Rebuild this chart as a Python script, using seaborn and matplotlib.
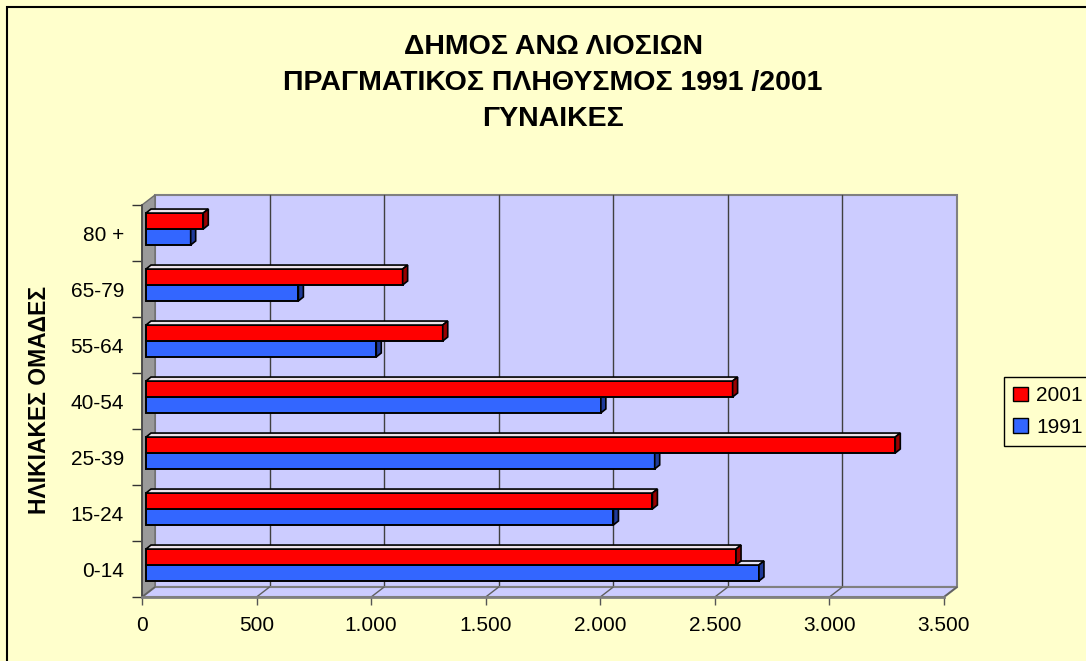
import pandas as pd
import matplotlib
matplotlib.use('Agg')
import matplotlib.pyplot as plt
import matplotlib.transforms as mtransforms
from matplotlib.patches import Rectangle, Polygon
from matplotlib.ticker import FuncFormatter, FixedLocator
import seaborn as sns

# data
age_groups = ['0-14', '15-24', '25-39', '40-54', '55-64', '65-79', '80 +']
women_1991 = [2675, 2040, 2220, 1985, 1005, 665, 195]
women_2001 = [2575, 2210, 3270, 2560, 1295, 1120, 250]
years = ['2001', '1991']
x_ticks = [0, 500, 1000, 1500, 2000, 2500, 3000, 3500]

df = pd.DataFrame({
    'age': age_groups * 2,
    'year': ['1991'] * len(age_groups) + ['2001'] * len(age_groups),
    'value': women_1991 + women_2001,
})

sns.set_theme(style='white')
plt.rcParams['font.family'] = ['Liberation Sans', 'DejaVu Sans']
plt.rcParams['text.color'] = 'black'
plt.rcParams['xtick.labelcolor'] = 'black'
plt.rcParams['ytick.labelcolor'] = 'black'

BG = '#FFFFCC'
WALL = '#CCCCFF'
colors = {'2001': '#FF0000', '1991': '#3366FF'}
side_colors = {'2001': '#990000', '1991': '#1F3A99'}
top_colors = {'2001': '#EDE3EA', '1991': '#E4E4F4'}

W, H, DPI = 1086, 661, 100
fig = plt.figure(figsize=(W / DPI, H / DPI), dpi=DPI, facecolor=BG)

# chart border (cut off at right and bottom as in the reference)
fig.patches.append(Rectangle((7 / W, -0.2), 1.2, 1.2 - 7 / H, transform=fig.transFigure,
                             facecolor=BG, edgecolor='black', linewidth=1.5, zorder=-5))

# front plane of the 3D plot
ax = fig.add_axes([142 / W, 1 - 597 / H, 802 / W, 392 / H])
ax.set_zorder(2)
ax.set_facecolor('none')

sns.barplot(data=df, x='value', y='age', hue='year', order=age_groups[::-1],
            hue_order=years, palette=colors, width=0.57, edgecolor='black',
            linewidth=1.4, saturation=1, ax=ax, legend=False)

xmax = 3500
ax.set_xlim(0, xmax)
ax.set_ylim(len(age_groups) - 0.5, -0.5)

px_x = xmax / 802          # data units per pixel (x)
px_y = len(age_groups) / 392  # data units per pixel (y)

# walls: back wall, left wall, floor
wdx, wdy = 13, 10
wall_shift = mtransforms.ScaledTranslation(wdx / DPI, wdy / DPI, fig.dpi_scale_trans)
adx, ady = wdx / 802, wdy / 392
ax.add_patch(Rectangle((0, 0), 1, 1, transform=ax.transAxes + wall_shift,
                       facecolor=WALL, edgecolor='#808080', linewidth=1.5,
                       clip_on=False, zorder=0.5))
ax.add_patch(Polygon([(0, 0), (adx, ady), (adx, 1 + ady), (0, 1)], closed=True,
                     transform=ax.transAxes, facecolor='#9A9A9A', edgecolor='#6E6E6E',
                     linewidth=1, clip_on=False, zorder=0.7))
ax.add_patch(Polygon([(0, 0), (1, 0), (1 + adx, ady), (adx, ady)], closed=True,
                     transform=ax.transAxes, facecolor=WALL, edgecolor='#808080',
                     linewidth=1.5, clip_on=False, zorder=0.7))
for v in x_ticks[1:-1]:
    ax.plot([v, v], [0, 1], transform=ax.get_xaxis_transform() + wall_shift,
            color='#404040', linewidth=1, clip_on=False, zorder=0.6)
for v in x_ticks:
    f = v / xmax
    ax.plot([f, f + adx], [0, ady], transform=ax.transAxes, color='#606060',
            linewidth=1, clip_on=False, zorder=0.8)

# bars sit in the middle of the depth, give them a 3D look
bar_shift = mtransforms.ScaledTranslation(4 / DPI, 4 / DPI, fig.dpi_scale_trans)
ddx, ddy = 5 * px_x, 4 * px_y
for year, cont in zip(years, ax.containers):
    z = 4 if year == '2001' else 3
    for p in cont.patches:
        p.set_transform(ax.transData + bar_shift)
        p.set_zorder(z)
        x0, x1 = p.get_x(), p.get_x() + p.get_width()
        yt, yb = p.get_y(), p.get_y() + p.get_height()
        top = Polygon([(x0, yt), (x1, yt), (x1 + ddx, yt - ddy), (x0 + ddx, yt - ddy)],
                      closed=True, facecolor=top_colors[year], edgecolor='black',
                      linewidth=1.2, transform=ax.transData + bar_shift, zorder=z + 0.1,
                      clip_on=False)
        side = Polygon([(x1, yt), (x1, yb), (x1 + ddx, yb - ddy), (x1 + ddx, yt - ddy)],
                       closed=True, facecolor=side_colors[year], edgecolor='black',
                       linewidth=1.2, transform=ax.transData + bar_shift, zorder=z + 0.1,
                       clip_on=False)
        ax.add_patch(top)
        ax.add_patch(side)

# axes, ticks and labels
for s in ['top', 'right']:
    ax.spines[s].set_visible(False)
ax.spines['left'].set_color('#444444')
ax.spines['left'].set_linewidth(1.2)
ax.spines['bottom'].set_color('#808080')
ax.spines['bottom'].set_linewidth(2)
ax.spines['left'].set_zorder(0.9)

ax.set_xticks(x_ticks)
ax.xaxis.set_major_formatter(FuncFormatter(lambda v, pos: f'{int(v):,}'.replace(',', '.')))
ax.tick_params(axis='x', bottom=True, direction='out', length=6, width=1,
               color='#555555', labelsize=15, pad=8, labelcolor='black')
ax.yaxis.set_minor_locator(FixedLocator([i - 0.5 for i in range(len(age_groups) + 1)]))
ax.tick_params(axis='y', which='major', left=True, length=0, labelsize=15, pad=13,
               labelcolor='black')
ax.tick_params(axis='y', which='minor', left=True, direction='out', length=7, width=1,
               color='#333333')
ax.set_xlabel('')
ax.set_ylabel('')
ax.grid(False)

fig.text(40 / W, 1 - 400 / H, 'ΗΛΙΚΙΑΚΕΣ ΟΜΑΔΕΣ', rotation=90, ha='center', va='center',
         fontsize=16.5, fontweight='bold', color='black')

title_lines = ['ΔΗΜΟΣ ΑΝΩ ΛΙΟΣΙΩΝ', 'ΠΡΑΓΜΑΤΙΚΟΣ ΠΛΗΘΥΣΜΟΣ 1991 /2001', 'ΓΥΝΑΙΚΕΣ']
for line, yy in zip(title_lines, [47, 83, 119]):
    fig.text(553 / W, 1 - yy / H, line, ha='center', va='center', fontsize=20.5,
             fontweight='bold', color='black')

handles = [Rectangle((0, 0), 1, 1, facecolor=colors[y], edgecolor='black', linewidth=1)
           for y in years]
leg = ax.legend(handles, years, loc='upper left', bbox_to_anchor=(1004 / W, 1 - 377 / H),
                bbox_transform=fig.transFigure, frameon=True, fancybox=False,
                edgecolor='black', facecolor=BG, framealpha=1, fontsize=15,
                handlelength=0.7, handleheight=0.7, handletextpad=0.4,
                labelspacing=0.6, borderpad=0.45, borderaxespad=0)
leg.get_frame().set_linewidth(1)
for t in leg.get_texts():
    t.set_color('black')

plt.savefig('out.png', dpi=DPI, facecolor=BG)
plt.close()
print("Chart saved")
